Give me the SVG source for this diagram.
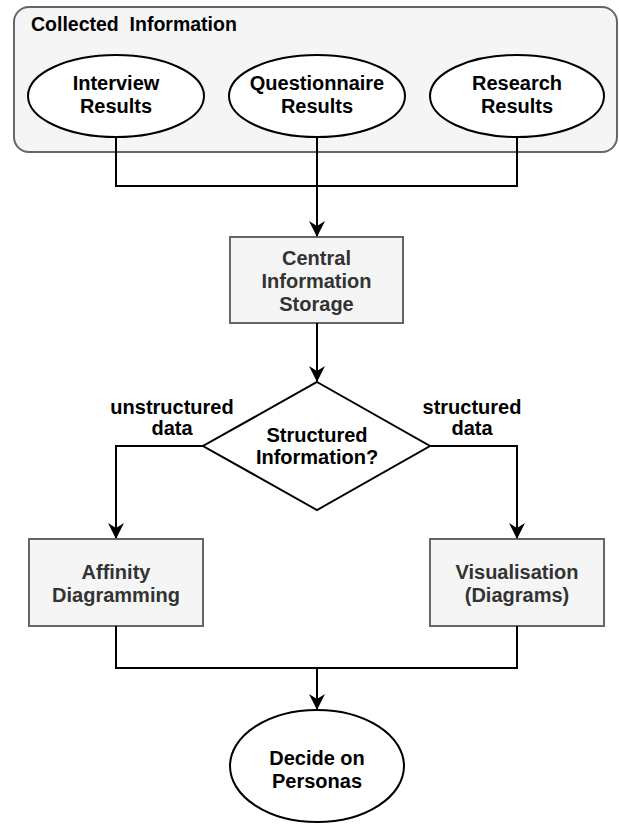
<svg xmlns="http://www.w3.org/2000/svg" width="619" height="825" viewBox="0 0 619 825">
<defs>
<style>
.t{font-family:"Liberation Sans",Arial,sans-serif;font-weight:bold;font-size:20px;text-anchor:middle;fill:#000}
.g{fill:#333}
.ell{fill:#fff;stroke:#000;stroke-width:2}
.box{fill:#f5f5f5;stroke:#666;stroke-width:2}
.c{fill:none;stroke:#000;stroke-width:2}
</style>
<marker id="arr" viewBox="0 0 16 16" refX="15" refY="8" markerWidth="16" markerHeight="16" markerUnits="userSpaceOnUse" orient="auto">
<path d="M0,0 L16,8 L0,16 L5,8 Z" fill="#000"/>
</marker>
</defs>
<g id="container">
<rect x="14" y="7" width="603" height="145" rx="15" ry="15" class="box"/>
<text x="31" y="31" class="t" style="text-anchor:start;font-size:19.5px;white-space:pre">Collected  Information</text>
</g>
<g id="interview">
<ellipse cx="116" cy="96" rx="88" ry="41" class="ell"/>
<text class="t" x="116" y="90">Interview</text>
<text class="t" x="116" y="113">Results</text>
</g>
<g id="questionnaire">
<ellipse cx="317" cy="96" rx="88" ry="41" class="ell"/>
<text class="t" x="317" y="90">Questionnaire</text>
<text class="t" x="317" y="113">Results</text>
</g>
<g id="research">
<ellipse cx="517" cy="96" rx="87" ry="41" class="ell"/>
<text class="t" x="517" y="90">Research</text>
<text class="t" x="517" y="113">Results</text>
</g>
<g id="storage">
<rect x="230" y="237" width="173" height="86" class="box"/>
<text class="t g" x="316.5" y="265">Central</text>
<text class="t g" x="316.5" y="288">Information</text>
<text class="t g" x="316.5" y="311">Storage</text>
</g>
<g id="decision">
<path d="M317,382 L430,446 L317,510 L203,446 Z" class="ell"/>
<text class="t" x="317" y="442">Structured</text>
<text class="t" x="317" y="464">Information?</text>
</g>
<g id="affinity">
<rect x="29" y="539" width="174" height="87" class="box"/>
<text class="t g" x="116" y="579">Affinity</text>
<text class="t g" x="116" y="602">Diagramming</text>
</g>
<g id="visualisation">
<rect x="430" y="539" width="174" height="87" class="box"/>
<text class="t g" x="517" y="579">Visualisation</text>
<text class="t g" x="517" y="602">(Diagrams)</text>
</g>
<g id="personas">
<ellipse cx="317" cy="766" rx="87" ry="56" class="ell"/>
<text class="t" x="317" y="765">Decide on</text>
<text class="t" x="317" y="788">Personas</text>
</g>
<g id="connectors">
<path class="c" d="M116,137 V186 H517 V137"/>
<path class="c" d="M317,137 V236" marker-end="url(#arr)"/>
<path class="c" d="M317,323 V381" marker-end="url(#arr)"/>
<path class="c" d="M203,446 H116 V538" marker-end="url(#arr)"/>
<path class="c" d="M430,446 H517 V538" marker-end="url(#arr)"/>
<path class="c" d="M116,626 V668 H517 V626"/>
<path class="c" d="M317,668 V709" marker-end="url(#arr)"/>
<text class="t" x="172" y="414">unstructured</text>
<text class="t" x="172" y="435">data</text>
<text class="t" x="472" y="414">structured</text>
<text class="t" x="472" y="435">data</text>
</g>
</svg>
